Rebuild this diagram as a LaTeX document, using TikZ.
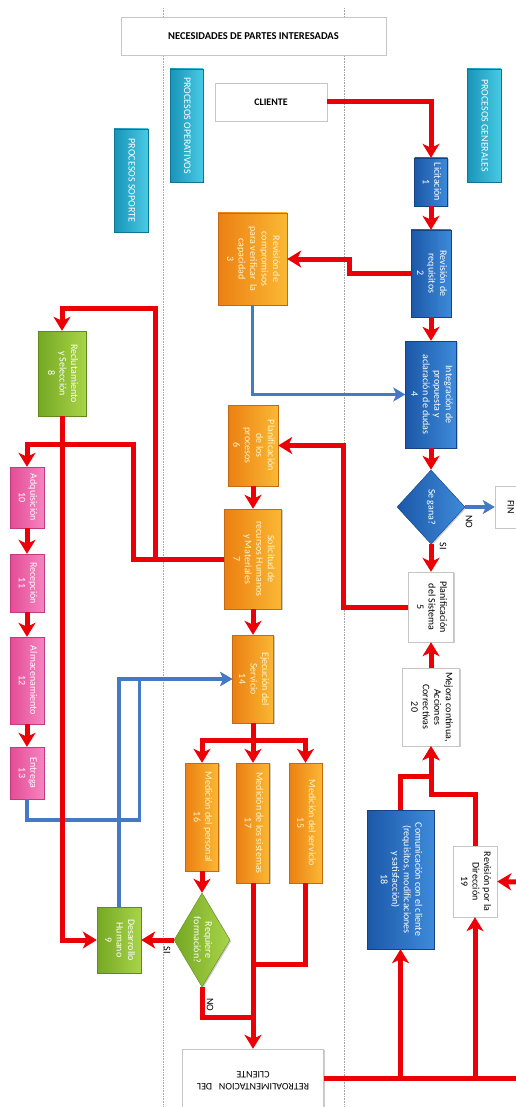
\documentclass[tikz,border=0pt]{standalone}
\usepackage{fontspec}
\setmainfont{Carlito}
\usepackage{graphicx}
\usetikzlibrary{arrows.meta,shapes.geometric,shadows}

\definecolor{rojo}{RGB}{236,0,8}
\definecolor{azulflecha}{RGB}{68,122,196}
\definecolor{azulA}{RGB}{28,88,168}
\definecolor{azulB}{RGB}{62,138,218}
\definecolor{azulC}{RGB}{22,66,130}
\definecolor{naranjaA}{RGB}{236,128,18}
\definecolor{naranjaB}{RGB}{250,184,52}
\definecolor{naranjaC}{RGB}{196,106,18}
\definecolor{verdeA}{RGB}{118,168,36}
\definecolor{verdeB}{RGB}{168,212,72}
\definecolor{verdeC}{RGB}{96,138,30}
\definecolor{rosaA}{RGB}{228,76,150}
\definecolor{rosaB}{RGB}{246,132,192}
\definecolor{rosaC}{RGB}{196,58,128}
\definecolor{tealA}{RGB}{24,148,184}
\definecolor{tealB}{RGB}{72,202,228}
\definecolor{tealC}{RGB}{18,116,148}
\definecolor{textonar}{RGB}{255,246,204}

\newcommand{\vt}[1]{\rotatebox{-90}{\begin{tabular}{@{}c@{}}#1\end{tabular}}}

\tikzset{
  box/.style={rectangle, inner sep=0pt, font=\fontsize{10}{11.5}\selectfont,
    drop shadow={shadow xshift=1.2pt, shadow yshift=-1.2pt, opacity=0.4}},
  bluebox/.style={box, left color=azulA, right color=azulB, draw=azulC, text=white},
  orangebox/.style={box, left color=naranjaA, right color=naranjaB, draw=naranjaC, text=textonar},
  greenbox/.style={box, left color=verdeA, right color=verdeB, draw=verdeC, text=white},
  pinkbox/.style={box, left color=rosaA, right color=rosaB, draw=rosaC, text=white},
  lanebox/.style={box, left color=tealA, right color=tealB, draw=tealC, text=white},
  whitebox/.style={box, fill=white, draw=gray!45},
  rline/.style={line width=5pt, draw=rojo},
  rarr/.style={rline, -{Stealth[length=14pt,width=17pt,inset=4pt]}},
  barr/.style={line width=3.5pt, draw=azulflecha, -{Stealth[length=12pt,width=14pt,inset=3pt]}},
  lane/.style={gray!70, densely dotted, line width=0.6pt},
  lbl/.style={inner sep=0pt, font=\fontsize{10}{11.5}\selectfont},
}

\begin{document}
\begin{tikzpicture}[x=1pt,y=-1pt]
			%%%%% START %%%%%
			\useasboundingbox (0,0) rectangle (515,1107);

			\draw[lane] (163,8) -- (163,1107);
			\draw[lane] (344,8) -- (344,1107);

			\node[whitebox, minimum width=265pt, minimum height=38pt, font=\fontsize{10.5}{12}\selectfont\bfseries] (hdr) at (253.5,36) {NECESIDADES DE PARTES INTERESADAS};
			\node[whitebox, minimum width=112pt, minimum height=38pt, font=\fontsize{10}{12}\selectfont\bfseries] (cli) at (271,102) {CLIENTE};

			\node[lanebox, minimum width=33pt, minimum height=113pt] (lop) at (186.5,125.5) {\vt{PROCESOS OPERATIVOS}};
			\node[lanebox, minimum width=34pt, minimum height=103pt] (lso) at (131,180.5) {\vt{PROCESOS SOPORTE}};
			\node[lanebox, minimum width=34pt, minimum height=113pt] (lge) at (484,125.5) {\vt{PROCESOS GENERALES}};

			% procesos generales
			\node[bluebox, minimum width=33pt, minimum height=48pt] (n1) at (431,182) {\vt{Licitación\\1}};
			\node[bluebox, minimum width=40pt, minimum height=87pt] (n2) at (431,273.5) {\vt{Revisión de\\requisitos\\2}};
			\node[bluebox, minimum width=51pt, minimum height=107pt] (n4) at (431,394.5) {\vt{Integración de\\propuesta y\\aclaración de dudas\\4}};
			\node[box, diamond, aspect=0.9, left color=azulA, right color=azulB, draw=azulC, text=white, minimum width=68pt, minimum height=74pt] (gana) at (431,507) {\vt{Se gana?}};
			\node[whitebox, minimum width=30pt, minimum height=42pt] (fin) at (510,507) {\vt{FIN}};
			\node[whitebox, minimum width=45pt, minimum height=70pt] (n5) at (431,607) {\vt{Planificación\\del Sistema\\5}};
			\node[whitebox, minimum width=57pt, minimum height=78pt] (n20) at (431,707) {\vt{Mejora continua,\\Acciones\\Correctivas\\20}};
			\node[bluebox, minimum width=67pt, minimum height=139pt] (n18) at (400.5,879.5) {\vt{Comunicación con el cliente\\(requisitos, modificaciones\\y satisfacción)\\18}};
			\node[whitebox, minimum width=44pt, minimum height=71pt] (n19) at (475,881.5) {\vt{Revisión por la\\Dirección\\19}};

			% procesos operativos
			\node[orangebox, minimum width=69pt, minimum height=92pt] (n3) at (252.5,259) {\vt{Revisión de\\compromisos\\para verificar~~la\\capacidad\\3}};
			\node[orangebox, minimum width=50pt, minimum height=81pt] (n6) at (253,445.5) {\vt{Planificación\\de los\\procesos\\6}};
			\node[orangebox, minimum width=57pt, minimum height=100pt] (n7) at (253,559) {\vt{Solicitud de\\recursos Humanos\\y Materiales\\7}};
			\node[orangebox, minimum width=41pt, minimum height=88pt] (n14) at (253,679) {\vt{Ejecución del\\Servicio\\14}};
			\node[orangebox, minimum width=33pt, minimum height=108pt] (n16) at (202,817) {\vt{Medición del personal\\16}};
			\node[orangebox, minimum width=33pt, minimum height=120pt] (n17) at (253,823) {\vt{Medición de los sistemas\\17}};
			\node[orangebox, minimum width=33pt, minimum height=120pt] (n15) at (305.5,823) {\vt{Medición del servicio\\15}};
			\node[box, diamond, aspect=0.6, left color=verdeA, right color=verdeB, draw=verdeC, text=white, minimum width=56pt, minimum height=94pt] (req) at (202,940) {\vt{Requiere\\formación?}};
			\node[whitebox, minimum width=141pt, minimum height=62pt] (retro) at (253,1080) {\rotatebox{180}{\begin{tabular}{@{}c@{}}RETROALIMENTACION~~~DEL\\CLIENTE\end{tabular}}};

			% procesos soporte
			\node[greenbox, minimum width=48pt, minimum height=85pt] (n8) at (62,373.5) {\vt{Reclutamiento\\y Selección\\8}};
			\node[greenbox, minimum width=44pt, minimum height=66pt] (n9) at (119,940) {\vt{Desarrollo\\Humano\\9}};
			\node[pinkbox, minimum width=34pt, minimum height=61pt] (n10) at (27,497.5) {\vt{Adquisición\\10}};
			\node[pinkbox, minimum width=34pt, minimum height=58pt] (n11) at (27,583) {\vt{Recepción\\11}};
			\node[pinkbox, minimum width=34pt, minimum height=87pt] (n12) at (27,680.5) {\vt{Almacenamiento\\12}};
			\node[pinkbox, minimum width=34pt, minimum height=52pt] (n13) at (27,773) {\vt{Entrega\\13}};

			\coordinate (retroedge) at (520,1078);
			\coordinate (dired) at (520,882);

			% flechas azules
			\draw[barr] (n3.south) |- (n4.west);
			\draw[barr] (gana.east) -- (fin.west);
			\draw[barr] (n13.south) -- ++(0,21) -| ([xshift=-93pt]n14.west) -- (n14.west);
			\draw[barr] (n9.north) |- (n14.west);

			% flechas rojas
			\draw[rarr] (cli.east) -| (n1.north);
			\draw[rarr] (n1.south) -- (n2.north);
			\draw[rarr] (n2.west) -- ++(-61,0) |- (n3.east);
			\draw[rarr] (n2.south) -- (n4.north);
			\draw[rarr] (n4.south) -- (gana.north);
			\draw[rarr] (gana.south) -- (n5.north);
			\draw[rarr] (n5.west) -- ++(-65,0) |- (n6.east);
			\draw[rarr] (n6.south) -- (n7.north);
			\draw[rarr] (n7.west) -- ++(-91,0) |- ([yshift=22pt]n10.north) -- (n10.north);
			\draw[rarr] (n7.west) -- ++(-69,0) |- ([yshift=22pt]n8.north) -- (n8.north);
			\draw[rarr] (n8.south) |- (n9.west);
			\draw[rarr] (n10.south) -- (n11.north);
			\draw[rarr] (n11.south) -- (n12.north);
			\draw[rarr] (n12.south) -- (n13.north);
			\draw[rarr] (n7.south) -- (n14.north);
			\draw[rarr] (n14.south) -- ++(0,17) -| (n16.north);
			\draw[rarr] (n14.south) -- (n17.north);
			\draw[rarr] (n14.south) -- ++(0,17) -| (n15.north);
			\draw[rarr] (n16.south) -- (req.north);
			\draw[rarr] (req.west) -- (n9.east);
			\draw[rline] (req.south) |- ([yshift=31pt]retro.north);
			\draw[rline] (n15.south) |- ([yshift=84pt]retro.north);
			\draw[rarr] (n17.south) -- (retro.north);
			\draw[rline] ([yshift=2pt]retro.east) -- (retroedge);
			\draw[rarr] (n18.south |- retroedge) -- (n18.south);
			\draw[rarr] (n19.south |- retroedge) -- (n19.south);
			\draw[rarr] (dired) -- (n19.east);
			\draw[rarr] (n18.north) -- ++(0,-33) -| (n20.south);
			\draw[rarr] (n19.north) -- ++(0,-51) -| (n20.south);
			\draw[rarr] (n20.north) -- (n5.south);

			\node[lbl] (no1) at (469,522) {\rotatebox{-90}{NO}};
			\node[lbl] (si1) at (443,546) {\rotatebox{-90}{SI}};
			\node[lbl] (si2) at (167,950) {\rotatebox{-90}{SI}};
			\node[lbl] (no2) at (210,1005) {\rotatebox{-90}{NO}};
			%%%%% END %%%%%
\end{tikzpicture}
\end{document}
